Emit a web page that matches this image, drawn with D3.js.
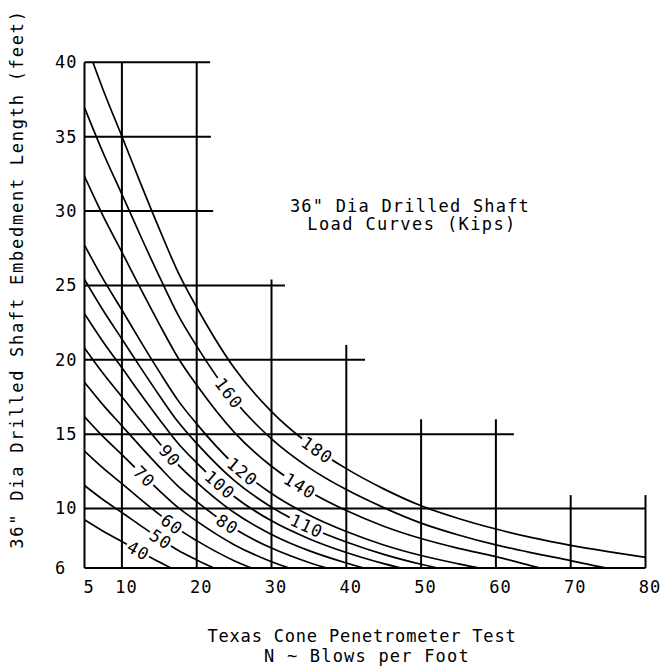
<!DOCTYPE html>
<html>
<head>
<meta charset="utf-8">
<script src="https://cdn.jsdelivr.net/npm/d3@7"></script>
<style>
  body { margin: 0; background: #fff; }
  svg text { font-family: "DejaVu Sans Mono", monospace; fill: #000; }
</style>
</head>
<body>
<svg id="chart" width="660" height="670"></svg>
<script>
var width = 660;
var height = 670;

var blows = [5, 7.5, 10, 12.5, 15, 17.5, 20, 25, 30, 35, 40, 45, 50, 55, 60, 65, 70, 75, 80];

// embedment length (feet) along each load curve, one value per blow count
var len40  = [9.24, 8.47, 7.78, 7.08, 6.40, 5.76];
var len50  = [11.55, 10.59, 9.73, 8.85, 8.00, 7.19, 6.54, 5.41];
var len60  = [13.86, 12.71, 11.67, 10.62, 9.60, 8.63, 7.84, 6.49, 5.50];
var len70  = [16.17, 14.83, 13.62, 12.39, 11.20, 10.07, 9.15, 7.57, 6.42, 5.58];
var len80  = [18.48, 16.95, 15.56, 14.16, 12.80, 11.51, 10.46, 8.65, 7.34, 6.37, 5.63];
var len90  = [20.79, 19.07, 17.51, 15.93, 14.40, 12.95, 11.76, 9.73, 8.26, 7.17, 6.34, 5.66];
var len100 = [23.09, 21.19, 19.46, 17.70, 16.00, 14.39, 13.07, 10.81, 9.17, 7.97, 7.04, 6.29, 5.68];
var len110 = [25.40, 23.31, 21.40, 19.47, 17.60, 15.83, 14.38, 11.89, 10.09, 8.76, 7.75, 6.92, 6.25, 5.70];
var len120 = [27.71, 25.42, 23.35, 21.24, 19.20, 17.27, 15.69, 12.97, 11.01, 9.56, 8.45, 7.55, 6.84, 6.28, 5.78];
var len140 = [32.33, 29.66, 27.24, 24.78, 22.40, 20.14, 18.30, 15.14, 12.84, 11.16, 9.86, 8.81, 7.98, 7.32, 6.76, 6.12, 5.50];
var len160 = [36.95, 33.90, 31.13, 28.32, 25.60, 23.02, 20.92, 17.30, 14.68, 12.75, 11.27, 10.06, 9.02, 8.22, 7.55, 7.00, 6.50, 5.97, 5.50];
var len180 = [41.57, 38.14, 35.02, 31.86, 28.80, 25.90, 23.53, 19.46, 16.51, 14.34, 12.68, 11.32, 10.18, 9.33, 8.62, 8.02, 7.52, 7.10, 6.72];

var loads   = [40, 50, 60, 70, 80, 90, 100, 110, 120, 140, 160, 180];
var lengths = [len40, len50, len60, len70, len80, len90, len100, len110, len120, len140, len160, len180];
// blow count where each curve carries its load label
var labelAt = [12.2, 15.2, 16.7, 13.0, 24.1, 16.4, 23.1, 34.7, 26.1, 33.8, 24.3, 36.1];

var xTicks = [5, 10, 20, 30, 40, 50, 60, 70, 80];
var yTicks = [6, 10, 15, 20, 25, 30, 35, 40];

// stepped grid: vertical lines [N, top length], horizontal lines [length, right end N]
var vLines = [[5, 40], [10, 40], [20, 40], [30, 25.4], [40, 21], [50, 16], [60, 16], [70, 10.9], [80, 10.9]];
var hLines = [[40, 21.8], [35, 21.9], [30, 22.2], [25, 31.8], [20, 42.5], [15, 62.4], [10, 80], [6, 80]];

var svg = d3.select("#chart");
svg.append("rect").attr("width", width).attr("height", height).attr("fill", "#fff");

var x = d3.scaleLinear().domain([5, 80]).range([84.5, 645.5]);
var y = d3.scaleLinear().domain([6, 40]).range([568, 62.3]);

svg.append("clipPath").attr("id", "plot")
  .append("rect")
  .attr("x", x(5)).attr("y", y(40))
  .attr("width", x(80) - x(5)).attr("height", y(6) - y(40));

// grid
svg.append("g").selectAll("line").data(vLines).enter().append("line")
  .attr("x1", function(d) { return x(d[0]); })
  .attr("x2", function(d) { return x(d[0]); })
  .attr("y1", y(6))
  .attr("y2", function(d) { return y(d[1]); })
  .attr("stroke", "#000").attr("stroke-width", 2);

svg.append("g").selectAll("line").data(hLines).enter().append("line")
  .attr("x1", x(5))
  .attr("x2", function(d) { return x(d[1]); })
  .attr("y1", function(d) { return y(d[0]); })
  .attr("y2", function(d) { return y(d[0]); })
  .attr("stroke", "#000").attr("stroke-width", 2);

// load curves
var line = d3.line()
  .x(function(d) { return x(d[0]); })
  .y(function(d) { return y(d[1]); })
  .curve(d3.curveMonotoneX);

var curves = loads.map(function(q, i) {
  return {
    load: q,
    at: labelAt[i],
    points: lengths[i].map(function(l, j) { return [blows[j], l]; })
  };
});

var curveG = svg.append("g").attr("clip-path", "url(#plot)");
var paths = curveG.selectAll("path").data(curves).enter().append("path")
  .attr("d", function(d) { return line(d.points); })
  .attr("fill", "none")
  .attr("stroke", "#000")
  .attr("stroke-width", 1.7);

// labels sit on the curve, turned along it, with the curve broken under them
var labelG = svg.append("g");
paths.each(function(d) {
  var node = this;
  var total = node.getTotalLength();
  var tx = x(d.at);
  var lo = 0, hi = total;
  for (var k = 0; k < 40; k++) {
    var mid = (lo + hi) / 2;
    if (node.getPointAtLength(mid).x < tx) lo = mid; else hi = mid;
  }
  var p = node.getPointAtLength(lo);
  var a = node.getPointAtLength(Math.max(0, lo - 2));
  var b = node.getPointAtLength(Math.min(total, lo + 2));
  var angle = Math.atan2(b.y - a.y, b.x - a.x) * 180 / Math.PI;
  var g = labelG.append("g")
    .attr("transform", "translate(" + p.x + "," + p.y + ") rotate(" + angle + ")");
  var bg = g.append("rect").attr("fill", "#fff");
  var t = g.append("text")
    .attr("text-anchor", "middle")
    .attr("dy", "0.36em")
    .style("font-size", "17px")
    .style("letter-spacing", "1px")
    .text(d.load);
  var bb = t.node().getBBox();
  bg.attr("x", bb.x - 2).attr("y", -5).attr("width", bb.width + 3).attr("height", 10);
});

// axes (labels only, the frame is the grid)
var xAxis = svg.append("g")
  .attr("transform", "translate(0," + y(6) + ")")
  .call(d3.axisBottom(x).tickValues(xTicks).tickSize(0).tickPadding(13).tickFormat(d3.format("d")));
xAxis.select(".domain").remove();
xAxis.selectAll("text")
  .attr("dx", 4)
  .style("font-size", "17px")
  .style("letter-spacing", "1px");

var yAxis = svg.append("g")
  .attr("transform", "translate(" + x(5) + ",0)")
  .call(d3.axisLeft(y).tickValues(yTicks).tickSize(0).tickFormat(d3.format("d")));
yAxis.select(".domain").remove();
yAxis.selectAll("text")
  .attr("x", 55 - x(5))
  .attr("text-anchor", "start")
  .style("font-size", "17px")
  .style("letter-spacing", "1px");

// titles
var inner = svg.append("g").style("font-size", "17px");
inner.append("text").attr("x", 410).attr("y", 212).attr("text-anchor", "middle")
  .style("letter-spacing", "1.2px")
  .text('36" Dia Drilled Shaft');
inner.append("text").attr("x", 412).attr("y", 230).attr("text-anchor", "middle")
  .style("letter-spacing", "1.4px")
  .text("Load Curves (Kips)");

inner.append("text").attr("x", 362).attr("y", 642).attr("text-anchor", "middle")
  .style("letter-spacing", "0.8px")
  .text("Texas Cone Penetrometer Test");
inner.append("text").attr("x", 367).attr("y", 662).attr("text-anchor", "middle")
  .style("letter-spacing", "1.2px")
  .text("N ~ Blows per Foot");

inner.append("text")
  .attr("transform", "translate(23,279) rotate(-90)")
  .attr("text-anchor", "middle")
  .style("letter-spacing", "1.75px")
  .text('36" Dia Drilled Shaft Embedment Length (feet)');
</script>
</body>
</html>
